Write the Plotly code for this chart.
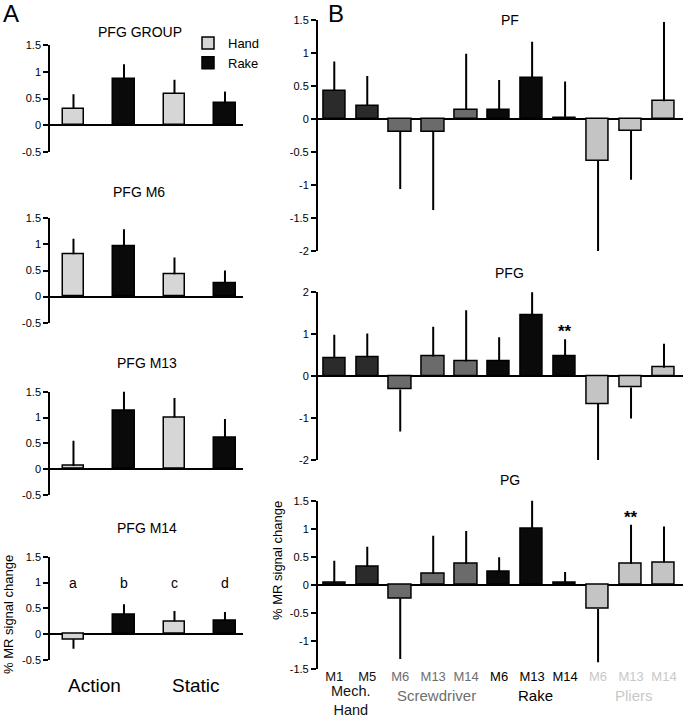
import plotly.graph_objects as go

W, H = 687, 719

# ---------------- Data ----------------
# Panel A: conditions in order Action-Hand, Action-Rake, Static-Hand, Static-Rake
A_TITLES = ["PFG GROUP", "PFG M6", "PFG M13", "PFG M14"]
A_VALUES = [
    [0.31, 0.86, 0.59, 0.41],
    [0.81, 0.97, 0.43, 0.26],
    [0.06, 1.13, 1.00, 0.61],
    [-0.10, 0.37, 0.25, 0.26],
]
A_ERR = [
    [0.27, 0.28, 0.26, 0.22],
    [0.30, 0.32, 0.32, 0.24],
    [0.49, 0.39, 0.38, 0.36],
    [0.18, 0.21, 0.20, 0.17],
]
A_SERIES = ["Hand", "Rake"]
A_CONDITIONS = ["Action", "Static"]
A_LETTERS = ["a", "b", "c", "d"]
A_TICKVALS = [-0.5, 0, 0.5, 1, 1.5]
A_TICKTEXT = ["-0.5", "0", "0.5", "1", "1.5"]

# Panel B
B_TITLES = ["PF", "PFG", "PG"]
B_LABELS = ["M1", "M5", "M6", "M13", "M14", "M6", "M13", "M14", "M6", "M13", "M14"]
B_GROUP_OF = [0, 0, 1, 1, 1, 2, 2, 2, 3, 3, 3]
B_GROUPS = ["Mech.<br>Hand", "Screwdriver", "Rake", "Pliers"]
B_VALUES = [
    [0.43, 0.20, -0.19, -0.19, 0.14, 0.14, 0.62, 0.02, -0.63, -0.18, 0.27],
    [0.43, 0.45, -0.32, 0.47, 0.35, 0.35, 1.44, 0.47, -0.66, -0.27, 0.20],
    [0.04, 0.32, -0.24, 0.20, 0.37, 0.23, 1.00, 0.04, -0.43, 0.375, 0.40],
]
B_ERR = [
    [0.44, 0.45, 0.87, 1.19, 0.85, 0.45, 0.55, 0.55, 1.51, 0.74, 1.20],
    [0.56, 0.57, 1.00, 0.71, 1.22, 0.58, 0.79, 0.41, 1.43, 0.74, 0.57],
    [0.39, 0.36, 1.08, 0.675, 0.59, 0.26, 0.59, 0.19, 0.95, 0.695, 0.64],
]
B_STARS = [None, 7, 9]  # index of bar marked "**" in each panel
B_TICKS = [
    ([-2, -1.5, -1, -0.5, 0, 0.5, 1, 1.5], ["-2", "-1.5", "-1", "-0.5", "0", "0.5", "1", "1.5"]),
    ([-2, -1, 0, 1, 2], ["-2", "-1", "0", "1", "2"]),
    ([-1.5, -1, -0.5, 0, 0.5, 1, 1.5], ["-1.5", "-1", "-0.5", "0", "0.5", "1", "1.5"]),
]
Y_TITLE = "% MR signal change"

# ---------------- Styling ----------------
FONT = "Liberation Sans, Arial, sans-serif"
NARROW = "Liberation Sans Narrow, Arial Narrow, Liberation Sans, sans-serif"
A_COLORS = {"Hand": "#d6d6d6", "Rake": "#0a0a0a"}
GROUP_COLORS = ["#2b2b2b", "#6b6b6b", "#0a0a0a", "#c4c4c4"]
LABEL_COLORS = ["#111111", "#6e6e6e", "#000000", "#c8c8c8"]


def dx(l, r):
    return [l / W, r / W]


def dy(t, b):
    return [1 - b / H, 1 - t / H]


def px_ann(text, x, y, size, **kw):
    d = dict(text=text, x=x / W, y=1 - y / H, xref="paper", yref="paper",
             xanchor="center", yanchor="middle", showarrow=False,
             font=dict(size=size, family=FONT, color=kw.pop("color", "black")))
    d.update(kw)
    return d


def err_arrays(vals, errs):
    up = [e if v >= 0 else 0 for v, e in zip(vals, errs)]
    dn = [e if v < 0 else 0 for v, e in zip(vals, errs)]
    return up, dn


fig = go.Figure()
layout = dict(
    width=W, height=H, margin=dict(l=0, r=0, t=0, b=0, autoexpand=False),
    paper_bgcolor="white", plot_bgcolor="white",
    font=dict(family=FONT, color="black"),
    bargap=0, barmode="overlay",
    legend=dict(x=188 / W, y=1 - 28 / H, xanchor="left", yanchor="top",
                font=dict(size=13, family=FONT), tracegroupgap=0,
                itemwidth=30, bgcolor="rgba(0,0,0,0)"),
)
annotations = []

# ---------------- Panel A ----------------
A_Y_PIX = [(45, 152), (218.3, 322.7), (391.7, 495), (556.7, 660)]
A_TITLE_X = [140, 139, 147, 147]
A_TITLE_Y = [32, 192, 363, 528]
for p in range(4):
    n = p + 1
    xa = f"x{n}" if n > 1 else "x"
    ya = f"y{n}" if n > 1 else "y"
    for s, name in enumerate(A_SERIES):
        idx = [i for i in range(4) if i % 2 == s]
        vals = [A_VALUES[p][i] for i in idx]
        errs = [A_ERR[p][i] for i in idx]
        up, dn = err_arrays(vals, errs)
        fig.add_trace(go.Bar(
            x=idx, y=vals, width=0.42, name=name,
            marker=dict(color=A_COLORS[name], line=dict(color="black", width=1.5)),
            error_y=dict(type="data", symmetric=False, array=up, arrayminus=dn,
                         color="black", thickness=2, width=0),
            xaxis=xa, yaxis=ya, showlegend=(p == 0), legendgroup=name,
        ))
    kx = "xaxis" if n == 1 else f"xaxis{n}"
    ky = "yaxis" if n == 1 else f"yaxis{n}"
    layout[kx] = dict(domain=dx(50, 243), range=[-0.465, 3.357], anchor=ya,
                      showline=False, showticklabels=False, ticks="",
                      showgrid=False, zeroline=False, fixedrange=True)
    layout[ky] = dict(domain=dy(*A_Y_PIX[p]), range=[-0.5, 1.5], anchor=xa,
                      showline=True, linecolor="black", linewidth=1.5,
                      ticks="outside", ticklen=5, tickwidth=1.5, tickcolor="black",
                      tickvals=A_TICKVALS, ticktext=A_TICKTEXT,
                      tickfont=dict(size=11, family=FONT),
                      showgrid=False, zeroline=True, zerolinecolor="black",
                      zerolinewidth=1.5, fixedrange=True)
    annotations.append(px_ann(A_TITLES[p], A_TITLE_X[p], A_TITLE_Y[p], 14))

# letters on PFG M14
for i, t in enumerate(A_LETTERS):
    annotations.append(dict(text=t, x=i, y=1.0, xref="x4", yref="y4",
                            xanchor="center", yanchor="middle",
                            showarrow=False, font=dict(size=14, family=FONT)))
# condition labels
for j, t in enumerate(A_CONDITIONS):
    annotations.append(dict(text=t, x=2 * j + 0.5, xref="x4", y=1 - 685 / H,
                            yref="paper", xshift=-4, xanchor="center", yanchor="middle",
                            showarrow=False, font=dict(size=19, family=FONT)))
# y title panel A
annotations.append(px_ann(Y_TITLE, 8, 615, 13, textangle=-90))
annotations.append(dict(text="A", x=0, y=1, xref="paper", yref="paper",
                        xanchor="left", yanchor="top", yshift=2, xshift=1,
                        showarrow=False, font=dict(size=24, family=FONT)))

# ---------------- Panel B ----------------
B_Y_PIX = [(20, 251), (292.3, 460), (500.7, 669)]
B_RANGES = [[-2, 1.5], [-2, 2], [-1.5, 1.5]]
B_TITLE_Y = [20, 273, 480]
xs = list(range(len(B_LABELS)))
tick_text = [f'<span style="color:{LABEL_COLORS[g]}">{l}</span>'
             for l, g in zip(B_LABELS, B_GROUP_OF)]
for p in range(3):
    n = p + 5
    xa, ya = f"x{n}", f"y{n}"
    up, dn = err_arrays(B_VALUES[p], B_ERR[p])
    fig.add_trace(go.Bar(
        x=xs, y=B_VALUES[p], width=0.67, name=B_TITLES[p],
        marker=dict(color=[GROUP_COLORS[g] for g in B_GROUP_OF],
                    line=dict(color="black", width=1.5)),
        error_y=dict(type="data", symmetric=False, array=up, arrayminus=dn,
                     color="black", thickness=2, width=0),
        xaxis=xa, yaxis=ya, showlegend=False,
    ))
    last = (p == 2)
    layout[f"xaxis{n}"] = dict(domain=dx(317.7, 682.7), range=[-0.503, 10.567], anchor=ya,
                               showline=False, showticklabels=last, ticks="",
                               tickvals=xs, ticktext=tick_text,
                               tickfont=dict(size=13, family=NARROW),
                               ticklabelstandoff=-2,
                               showgrid=False, zeroline=False, fixedrange=True)
    tv, tt = B_TICKS[p]
    layout[f"yaxis{n}"] = dict(domain=dy(*B_Y_PIX[p]), range=B_RANGES[p], anchor=xa,
                               showline=True, linecolor="black", linewidth=1.5,
                               ticks="outside", ticklen=5, tickwidth=1.5, tickcolor="black",
                               tickvals=tv, ticktext=tt,
                               tickfont=dict(size=11, family=FONT),
                               showgrid=False, zeroline=True, zerolinecolor="black",
                               zerolinewidth=1.5, fixedrange=True)
    annotations.append(px_ann(B_TITLES[p], 510, B_TITLE_Y[p], 14))
    s = B_STARS[p]
    if s is not None:
        annotations.append(dict(text="<b>**</b>", x=s, y=B_VALUES[p][s] + B_ERR[p][s],
                                xref=xa, yref=ya, xanchor="center", yanchor="bottom",
                                yshift=-4, showarrow=False,
                                font=dict(size=17, family=FONT)))

# group labels under PG
for g, name in enumerate(B_GROUPS):
    members = [i for i, gg in enumerate(B_GROUP_OF) if gg == g]
    cx = sum(members) / len(members)
    two_line = "<br>" in name
    if two_line:
        pos = dict(y=0, yanchor="bottom", yshift=0)
    else:
        pos = dict(y=1 - 695 / H, yanchor="middle")
    annotations.append(dict(text=name, x=cx, xref="x7", yref="paper",
                            xanchor="center", showarrow=False,
                            xshift=3 if g > 0 else 0, borderpad=0,
                            font=dict(size=15 if not two_line else 14.5,
                                      family=FONT, color=LABEL_COLORS[g]), **pos))
annotations.append(px_ann(Y_TITLE, 277, 561, 13, textangle=-90))
annotations.append(dict(text="B", x=326 / W, y=1, xref="paper", yref="paper",
                        xanchor="left", yanchor="top", yshift=2,
                        showarrow=False, font=dict(size=24, family=FONT)))

layout["annotations"] = annotations
fig.update_layout(**layout)
fig.write_html(
    "out.html",
    config={"displayModeBar": False},
    post_script="document.body.style.margin='0';document.body.style.padding='0';",
)
